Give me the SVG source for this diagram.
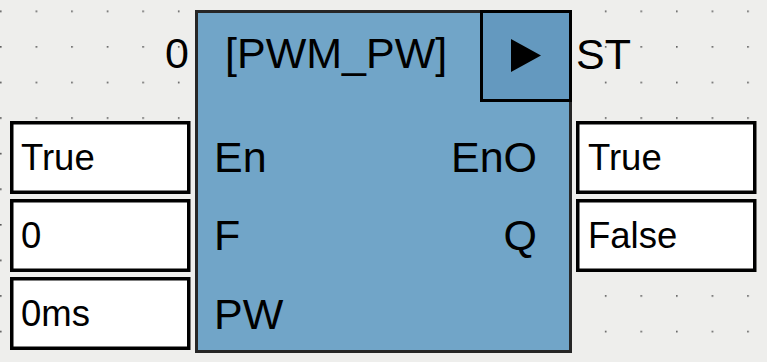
<svg xmlns="http://www.w3.org/2000/svg" width="767" height="362" viewBox="0 0 767 362">
<defs>
<pattern id="grid" x="0" y="10.5" width="35.58" height="35.58" patternUnits="userSpaceOnUse">
<rect x="0" y="0" width="1.6" height="1.6" fill="#555"/>
</pattern>
<style>
.lbl{font-family:"Liberation Sans",Arial,sans-serif;font-size:43px;fill:#000}
.val{font-family:"Liberation Sans",Arial,sans-serif;font-size:36.5px;fill:#000}
.box{fill:#fff;stroke:#000;stroke-width:3.5}
</style>
</defs>
<rect width="767" height="362" fill="#eeeeec"/>
<rect width="767" height="362" fill="url(#grid)"/>
<g id="block">
<rect x="196.5" y="11.5" width="374" height="340" fill="#71a5c8" stroke="#262626" stroke-width="3"/>
<text class="lbl" x="225" y="68">[PWM_PW]</text>
<text class="lbl" x="214" y="172">En</text>
<text class="lbl" x="214" y="250">F</text>
<text class="lbl" x="214" y="329">PW</text>
<text class="lbl" x="537" y="172" text-anchor="end">EnO</text>
<text class="lbl" x="537" y="250" text-anchor="end">Q</text>
</g>
<g id="run-button">
<rect x="481.5" y="11.5" width="89" height="89" fill="#6499bf" stroke="#000" stroke-width="3"/>
<polygon points="511,39 541,55.5 511,72" fill="#000"/>
</g>
<g id="label-0"><text class="lbl" x="189" y="68" text-anchor="end">0</text></g>
<g id="label-ST"><text class="lbl" x="576" y="69">ST</text></g>
<g id="in-en"><rect class="box" x="11.75" y="122.75" width="177" height="69.5"/><text class="val" x="21" y="170">True</text></g>
<g id="in-f"><rect class="box" x="11.75" y="200.75" width="177" height="69.5"/><text class="val" x="21" y="248">0</text></g>
<g id="in-pw"><rect class="box" x="11.75" y="278.75" width="177" height="69.5"/><text class="val" x="21" y="326">0ms</text></g>
<g id="out-eno"><rect class="box" x="577.75" y="122.75" width="177" height="69.5"/><text class="val" x="588" y="170">True</text></g>
<g id="out-q"><rect class="box" x="577.75" y="200.75" width="177" height="69.5"/><text class="val" x="588" y="248">False</text></g>
<g id="connectors"/>
</svg>
